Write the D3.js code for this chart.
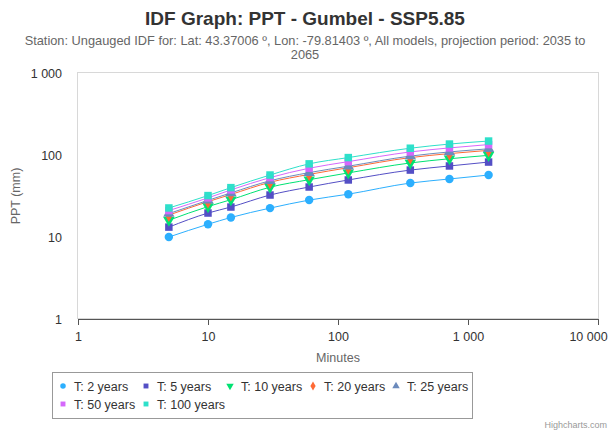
<!DOCTYPE html>
<html>
<head>
<meta charset="utf-8">
<script src="https://cdn.jsdelivr.net/npm/d3@7"></script>
<style>
  body { margin: 0; background: #fff; }
  svg { font-family: "Liberation Sans", Arial, sans-serif; display: block; }
</style>
</head>
<body>
<div id="chart"></div>
<script>
// durations (minutes) and return periods
var minutes = [5, 10, 15, 30, 60, 120, 360, 720, 1440];
var seriesNames = ["T: 2 years", "T: 5 years", "T: 10 years", "T: 20 years", "T: 25 years", "T: 50 years", "T: 100 years"];

// precipitation depth (mm)
var t2   = [10, 14.3, 17.3, 22.5, 28.2, 33.3, 45.5, 51, 57];
var t5   = [13.2, 19.6, 23.2, 32.5, 40.7, 49.6, 65.5, 73.5, 82];
var t10  = [16, 23.5, 28.5, 40.5, 50, 60.5, 80, 90, 99];
var t20  = [18.5, 27, 33, 46.5, 58, 70, 93, 104, 114];
var t25  = [19.3, 28, 34.5, 48.5, 61, 73, 97, 109, 119];
var t50  = [21, 30, 37.5, 53, 69, 83, 109, 122, 134];
var t100 = [22.6, 32, 40, 57, 78, 93, 121, 136, 148];

var xTicks = [1, 10, 100, 1000, 10000];
var yTicks = [1, 10, 100, 1000];

var colors = ["#2caffe", "#544fc5", "#00e272", "#fe6a35", "#6b8abc", "#d568fb", "#2ee0ca"];
var symbols = [d3.symbolCircle, d3.symbolSquare, "down", d3.symbolDiamond, d3.symbolTriangle, d3.symbolSquare, d3.symbolSquare];

var allValues = [t2, t5, t10, t20, t25, t50, t100];
var series = seriesNames.map(function(name, i) {
  return { name: name, color: colors[i], symbol: symbols[i],
           points: minutes.map(function(m, j) { return { x: m, y: allValues[i][j] }; }) };
});

var W = 610, H = 433;
var plot = { left: 78, right: 598, top: 73, bottom: 319 };

var svg = d3.select("#chart").append("svg")
    .attr("width", W)
    .attr("height", H);

var x = d3.scaleLog().domain([1, 10000]).range([plot.left, plot.right]);
var y = d3.scaleLog().domain([1, 1000]).range([plot.bottom, plot.top]);

// numbers with a space as thousands separator
function fmt(v) { return d3.format(",")(v).replace(/,/g, " "); }

// title and subtitle
svg.append("text")
    .attr("x", W / 2).attr("y", 25)
    .attr("text-anchor", "middle")
    .attr("font-size", "19px").attr("font-weight", "bold")
    .attr("fill", "#333")
    .text("IDF Graph: PPT - Gumbel - SSP5.85");

svg.append("text")
    .attr("x", W / 2).attr("y", 45)
    .attr("text-anchor", "middle")
    .attr("font-size", "12.8px").attr("fill", "#666")
    .text("Station: Ungauged IDF for: Lat: 43.37006 º, Lon: -79.81403 º, All models, projection period: 2035 to");
svg.append("text")
    .attr("x", W / 2).attr("y", 59)
    .attr("text-anchor", "middle")
    .attr("font-size", "12.8px").attr("fill", "#666")
    .text("2065");

// plot border
svg.append("rect")
    .attr("x", plot.left - 0.5).attr("y", plot.top - 0.5)
    .attr("width", plot.right - plot.left + 1)
    .attr("height", plot.bottom - plot.top)
    .attr("fill", "none")
    .attr("stroke", "#d8d8d8");

// x axis
var xAxis = svg.append("g")
    .attr("transform", "translate(0," + plot.bottom + ")")
    .call(d3.axisBottom(x).tickValues(xTicks).tickFormat(fmt).tickSize(6).tickSizeOuter(0));
xAxis.select(".domain").attr("stroke", "#555");
xAxis.selectAll(".tick line").attr("stroke", "#555");
xAxis.selectAll(".tick text")
    .attr("font-size", "12.5px").attr("fill", "#333")
    .attr("font-family", "Liberation Sans, Arial, sans-serif")
    .attr("dy", "1.05em")
    .attr("dx", function(d) { return d === 10000 ? -10 : 0; });

svg.append("text")
    .attr("x", (plot.left + plot.right) / 2).attr("y", 362)
    .attr("text-anchor", "middle")
    .attr("font-size", "12.5px").attr("fill", "#666")
    .text("Minutes");

// y axis (labels only)
var yAxis = svg.append("g")
    .attr("transform", "translate(" + (plot.left - 13) + ",0)")
    .call(d3.axisLeft(y).tickValues(yTicks).tickFormat(fmt).tickSize(0));
yAxis.select(".domain").remove();
yAxis.selectAll(".tick text")
    .attr("font-size", "12.5px").attr("fill", "#333")
    .attr("font-family", "Liberation Sans, Arial, sans-serif");

svg.append("text")
    .attr("transform", "translate(20," + ((plot.top + plot.bottom) / 2) + ") rotate(-90)")
    .attr("text-anchor", "middle")
    .attr("font-size", "12.5px").attr("fill", "#666")
    .text("PPT (mm)");

// marker drawing
function marker(sel, s, size) {
  if (s.symbol === "down") {
    sel.attr("d", d3.symbol(d3.symbolTriangle, size)())
       .attr("transform", function() { return (d3.select(this).attr("transform") || "") + " rotate(180)"; });
  } else {
    sel.attr("d", d3.symbol(s.symbol, size)());
  }
}

var line = d3.line()
    .x(function(d) { return x(d.x); })
    .y(function(d) { return y(d.y); })
    .curve(d3.curveMonotoneX);

var g = svg.append("g");
series.forEach(function(s) {
  g.append("path")
      .datum(s.points)
      .attr("fill", "none")
      .attr("stroke", s.color)
      .attr("stroke-width", 1)
      .attr("d", line);
});
series.forEach(function(s) {
  g.selectAll(null)
      .data(s.points)
    .enter().append("path")
      .attr("fill", s.color)
      .attr("transform", function(d) { return "translate(" + x(d.x) + "," + y(d.y) + ")"; })
      .each(function() { marker(d3.select(this), s, 56); });
});

// legend
var legend = svg.append("g");
legend.append("rect")
    .attr("x", 52.5).attr("y", 372.5)
    .attr("width", 420).attr("height", 46)
    .attr("fill", "none")
    .attr("stroke", "#999").attr("stroke-width", 1);

var itemX = [63, 146, 230, 313, 396, 63, 146];
var itemY = [386, 386, 386, 386, 386, 404, 404];
series.forEach(function(s, i) {
  var it = legend.append("g").attr("transform", "translate(" + itemX[i] + "," + itemY[i] + ")");
  it.append("path")
      .attr("fill", s.color)
      .attr("transform", "translate(0,0)")
      .each(function() { marker(d3.select(this), s, 24); });
  it.append("text")
      .attr("x", 11).attr("y", 4.5)
      .attr("font-size", "12.5px").attr("fill", "#333")
      .text(s.name);
});

// credits
svg.append("text")
    .attr("x", 607).attr("y", 428)
    .attr("text-anchor", "end")
    .attr("font-size", "9px").attr("fill", "#999")
    .text("Highcharts.com");
</script>
</body>
</html>
